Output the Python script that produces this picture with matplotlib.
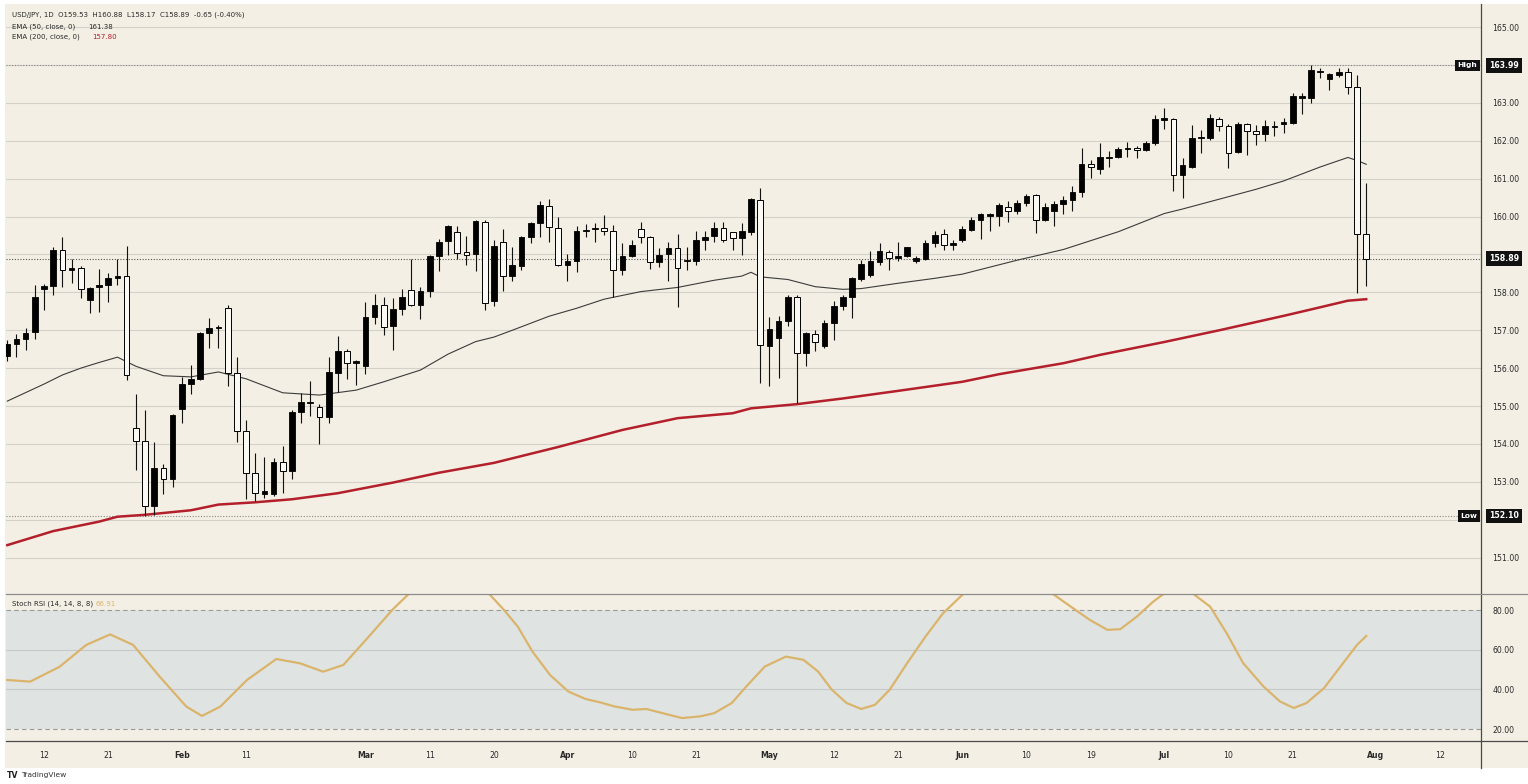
import numpy as np
import pandas as pd
import matplotlib
matplotlib.use("Agg")
import matplotlib.pyplot as plt
import matplotlib.transforms as mtransforms
from matplotlib.lines import Line2D
from matplotlib.patches import Rectangle

# ---- data ----
start_date = "2026-01-06"

opens = [156.32, 156.63, 156.77, 156.96, 158.08, 158.17, 159.12, 158.59, 158.63, 157.80,
         158.13, 158.19, 158.37, 158.43, 154.43, 154.07, 152.35, 153.37, 153.08, 154.92,
         155.58, 155.71, 156.93, 157.05, 157.60, 155.88, 154.33, 153.22, 152.69, 152.68,
         153.52, 153.28, 154.83, 155.08, 154.97, 154.71, 155.87, 156.46, 156.13, 156.07,
         157.34, 157.67, 157.10, 157.56, 158.06, 157.66, 158.04, 158.96, 159.36, 159.58,
         159.07, 159.01, 159.87, 157.76, 159.32, 158.44, 158.70, 159.47, 159.82, 160.28,
         159.69, 158.73, 158.84, 159.61, 159.67, 159.69, 159.62, 158.58, 158.95, 159.68,
         159.46, 158.79, 159.02, 159.18, 158.82, 158.83, 159.37, 159.49, 159.69, 159.59,
         159.43, 159.59, 160.44, 156.58, 156.80, 157.24, 157.88, 156.40, 156.91, 156.58,
         157.18, 157.63, 157.88, 158.36, 158.46, 158.80, 159.06, 158.90, 158.95, 158.82,
         158.89, 159.30, 159.54, 159.25, 159.39, 159.65, 159.90, 160.02, 160.02, 160.25,
         160.14, 160.37, 160.56, 159.90, 160.16, 160.34, 160.44, 160.66, 161.38, 161.26,
         161.55, 161.56, 161.78, 161.81, 161.75, 161.94, 162.56, 162.58, 161.09, 161.31,
         162.07, 162.08, 162.57, 162.38, 161.70, 162.45, 162.26, 162.17, 162.37, 162.45,
         162.47, 163.14, 163.14, 163.82, 163.62, 163.73, 163.82, 163.41, 159.53]
highs = [156.75, 156.89, 157.05, 158.19, 158.22, 159.21, 159.47, 158.87, 158.70, 158.14,
         158.61, 158.52, 158.87, 159.22, 155.33, 154.89, 154.05, 153.48, 154.78, 155.77,
         156.08, 156.95, 157.33, 157.15, 157.67, 156.30, 154.62, 153.76, 153.66, 153.63,
         153.94, 154.89, 155.34, 155.65, 155.06, 156.29, 156.85, 156.50, 156.22, 157.75,
         157.97, 157.87, 157.86, 158.08, 158.89, 158.13, 158.98, 159.42, 159.77, 159.75,
         159.48, 159.90, 159.90, 159.39, 159.67, 159.21, 159.50, 159.87, 160.42, 160.46,
         159.98, 159.02, 159.74, 159.81, 159.84, 160.04, 159.78, 159.30, 159.37, 159.87,
         159.48, 159.17, 159.32, 159.54, 159.21, 159.63, 159.63, 159.85, 159.85, 159.60,
         159.82, 160.48, 160.75, 157.35, 157.37, 157.94, 157.94, 156.95, 157.02, 157.28,
         157.76, 157.94, 158.40, 158.86, 159.10, 159.30, 159.12, 159.34, 159.21, 158.96,
         159.37, 159.61, 159.67, 159.39, 159.76, 160.00, 160.09, 160.09, 160.36, 160.40,
         160.44, 160.59, 160.59, 160.36, 160.40, 160.55, 160.80, 161.81, 161.48, 161.93,
         161.74, 161.84, 161.96, 161.85, 161.99, 162.69, 162.87, 162.60, 161.55, 162.41,
         162.28, 162.72, 162.63, 162.44, 162.50, 162.47, 162.41, 162.54, 162.52, 162.60,
         163.25, 163.25, 163.99, 163.91, 163.78, 163.91, 163.91, 163.73, 160.88]
lows = [156.20, 156.30, 156.48, 156.78, 157.53, 157.93, 158.13, 158.24, 157.84, 157.45,
        157.49, 157.75, 158.19, 155.68, 153.30, 152.10, 152.12, 152.69, 152.86, 154.56,
        155.31, 155.68, 156.52, 156.52, 155.52, 154.05, 152.56, 152.50, 152.58, 152.62,
        152.71, 153.08, 154.55, 154.73, 154.01, 154.54, 155.36, 155.71, 155.56, 155.85,
        157.17, 156.88, 156.48, 157.40, 157.64, 157.29, 157.87, 158.57, 158.98, 158.87,
        158.72, 158.57, 157.54, 157.63, 158.03, 158.29, 158.58, 159.30, 159.47, 159.34,
        158.70, 158.29, 158.55, 159.46, 159.34, 159.52, 157.89, 158.46, 158.93, 159.30,
        158.61, 158.67, 158.29, 157.61, 158.58, 158.73, 159.12, 159.32, 159.32, 159.12,
        158.99, 159.52, 155.60, 155.53, 155.75, 157.11, 155.07, 156.05, 156.45, 156.54,
        156.75, 157.54, 157.32, 158.29, 158.40, 158.73, 158.60, 158.82, 158.94, 158.77,
        158.86, 159.21, 159.12, 159.12, 159.34, 159.61, 159.41, 159.63, 159.74, 159.87,
        160.07, 160.27, 159.56, 159.88, 159.76, 160.07, 160.14, 160.52, 161.02, 161.13,
        161.31, 161.54, 161.57, 161.55, 161.74, 161.90, 162.31, 160.67, 160.49, 161.29,
        161.68, 162.03, 162.26, 161.29, 161.68, 161.62, 161.88, 162.00, 162.12, 162.21,
        162.45, 162.72, 163.01, 163.67, 163.33, 163.69, 163.23, 157.98, 158.17]
closes = [156.65, 156.78, 156.94, 157.89, 158.17, 159.12, 158.59, 158.64, 158.08, 158.11,
          158.19, 158.39, 158.43, 155.81, 154.07, 152.35, 153.37, 153.08, 154.76, 155.58,
          155.71, 156.93, 157.05, 157.09, 155.88, 154.33, 153.22, 152.71, 152.75, 153.52,
          153.28, 154.83, 155.10, 155.10, 154.71, 155.89, 156.44, 156.13, 156.18, 157.36,
          157.67, 157.08, 157.56, 157.89, 157.66, 158.04, 158.96, 159.33, 159.75, 159.04,
          158.98, 159.88, 157.72, 159.23, 158.44, 158.73, 159.47, 159.82, 160.31, 159.72,
          158.73, 158.82, 159.62, 159.65, 159.69, 159.62, 158.58, 158.95, 159.25, 159.46,
          158.80, 158.99, 159.16, 158.64, 158.84, 159.39, 159.47, 159.71, 159.37, 159.43,
          159.62, 160.46, 156.62, 157.04, 157.24, 157.89, 156.40, 156.93, 156.68, 157.19,
          157.63, 157.88, 158.38, 158.75, 158.83, 159.08, 158.92, 158.96, 159.19, 158.90,
          159.30, 159.52, 159.25, 159.29, 159.67, 159.90, 160.07, 160.06, 160.30, 160.16,
          160.36, 160.55, 159.92, 160.24, 160.33, 160.43, 160.66, 161.38, 161.31, 161.56,
          161.57, 161.79, 161.81, 161.75, 161.94, 162.58, 162.58, 161.11, 161.37, 162.08,
          162.10, 162.59, 162.38, 161.68, 162.45, 162.25, 162.19, 162.38, 162.38, 162.50,
          163.18, 163.16, 163.86, 163.85, 163.75, 163.82, 163.41, 159.53, 158.89]

ema50_idx = [0, 4, 6, 8, 10, 12, 14, 17, 20, 23, 26, 30, 34, 38, 41, 45, 48, 51, 53, 55,
             59, 62, 65, 69, 73, 77, 80, 81, 82, 85, 88, 91, 93, 97, 101, 104, 110, 115,
             121, 126, 128, 132, 136, 139, 143, 146, 147, 148]
ema50_val = [155.13, 155.58, 155.82, 156.00, 156.15, 156.29, 156.05, 155.80, 155.77, 155.90,
             155.72, 155.35, 155.29, 155.42, 155.64, 155.95, 156.37, 156.70, 156.82, 157.00,
             157.37, 157.58, 157.82, 158.02, 158.13, 158.32, 158.43, 158.53, 158.41, 158.34,
             158.15, 158.08, 158.10, 158.24, 158.37, 158.48, 158.85, 159.13, 159.60, 160.08,
             160.20, 160.46, 160.72, 160.94, 161.31, 161.56, 161.48, 161.38]

ema200_idx = [0, 5, 10, 12, 15, 20, 23, 27, 31, 36, 42, 47, 53, 60, 67, 73, 79, 81, 86,
              91, 97, 104, 108, 115, 119, 126, 132, 139, 142, 146, 148]
ema200_val = [151.33, 151.70, 151.95, 152.08, 152.13, 152.25, 152.40, 152.46, 152.54, 152.70,
              152.98, 153.24, 153.50, 153.92, 154.37, 154.68, 154.81, 154.94, 155.05, 155.20,
              155.40, 155.64, 155.84, 156.13, 156.35, 156.69, 157.00, 157.38, 157.55, 157.78,
              157.82]

stoch_idx = [0, 2.5, 5.7, 8.6, 11.2, 13.7, 16.6, 19.5, 21.2, 23.2, 26.1, 29.3, 31.9, 34.4,
             36.6, 39.2, 42.0, 43.7, 46, 48.5, 51, 52.5, 54.1, 55.6, 57.2, 59.1, 61.1, 63,
             64.6, 66.1, 68.1, 69.6, 71.6, 73.5, 75.5, 77, 78.9, 80.5, 82.5, 84.8, 86.7,
             88.3, 89.8, 91.4, 93, 94.5, 96.1, 98, 100, 101.9, 103.8, 104.1, 106, 109, 112,
             113.9, 116.1, 117.9, 119.8, 121.2, 123, 124.8, 125.9, 127.5, 129.2, 131, 132.8,
             134.6, 136.8, 138.6, 140.1, 141.5, 143.4, 145.2, 147, 148]
stoch_val = [44.7, 43.9, 51.4, 62.4, 67.7, 62.4, 46.4, 31.3, 26.6, 31.3, 44.7, 55.3, 53.1, 48.9,
             52.3, 65.7, 80.4, 88.0, 97.0, 100.0, 96.0, 88.0, 80.0, 71.6, 59.0, 47.3, 38.9, 35.1,
             33.4, 31.4, 29.7, 30.1, 27.7, 25.5, 26.4, 28.0, 33.1, 41.5, 51.5, 56.5, 54.9,
             49.0, 39.8, 33.1, 30.1, 32.2, 39.8, 53.2, 66.6, 78.3, 86.7, 88.0, 97.0, 100.0, 97.0,
             88.0, 80.8, 75.0, 70.0, 70.3, 76.6, 84.2, 88.0, 93.0, 88.0, 81.7, 68.3,
             53.2, 41.5, 33.9, 30.6, 33.1, 40.6, 51.5, 62.4, 66.91]

tick_dates = ["2026-01-12", "2026-01-21", "2026-02-02", "2026-02-11", "2026-03-02",
              "2026-03-11", "2026-03-20", "2026-04-01", "2026-04-10", "2026-04-21",
              "2026-05-01", "2026-05-12", "2026-05-21", "2026-06-01", "2026-06-10",
              "2026-06-19", "2026-07-01", "2026-07-10", "2026-07-21", "2026-08-03",
              "2026-08-12"]
tick_labels = ["12", "21", "Feb", "11", "Mar", "11", "20", "Apr", "10", "21", "May",
               "12", "21", "Jun", "10", "19", "Jul", "10", "21", "Aug", "12"]

price_ticks = [151, 153, 154, 155, 156, 157, 158, 160, 161, 162, 163, 165]
grid_levels = list(range(151, 166))
stoch_ticks = [20, 40, 60, 80]

high_mark = 163.99
low_mark = 152.10
last_price = 158.89

# ---- style ----
BG = "#f4efe4"
BAND = "#dfe4e3"
GRID = "#d3d1ca"
TXT = "#2a2a2a"
AX_LINE = "#4a4a4a"
RED = "#b3202c"
GOLD = "#dbb46c"

W, H = 1528, 784
fig = plt.figure(figsize=(W / 100, H / 100), dpi=100, facecolor="white")

def fx(px):
    return px / W

def fy(py):
    return 1 - py / H

bg_rect = Rectangle((fx(5), fy(768)), 1 - fx(5), fy(4) - fy(768),
                    transform=fig.transFigure, facecolor=BG, edgecolor="none", zorder=-5)
fig.patches.append(bg_rect)

left, right = 6, 1481
ax1 = fig.add_axes([fx(left), fy(594), fx(right - left), fy(4) - fy(594)], facecolor=BG)
ax2 = fig.add_axes([fx(left), fy(741), fx(right - left), fy(594) - fy(741)], facecolor=BG, sharex=ax1)

x = np.arange(len(opens))
o = np.array(opens)
c = np.array(closes)
up = c >= o
body_bot = np.minimum(o, c)
body_h = np.maximum(np.abs(c - o), 0.03)

for lvl in grid_levels:
    ax1.axhline(lvl, color=GRID, lw=0.8, zorder=1)

ax1.axhline(high_mark, color="#8a8a8a", lw=0.8, ls=(0, (1, 1.5)), zorder=2)
ax1.axhline(low_mark, color="#8a8a8a", lw=0.8, ls=(0, (1, 1.5)), zorder=2)
ax1.axhline(last_price, color="#555555", lw=0.8, ls=(0, (1, 1.5)), zorder=2)

ax1.plot(ema50_idx, ema50_val, color="#3c3c3c", lw=0.8, zorder=2.5)
ax1.plot(ema200_idx, ema200_val, color=RED, lw=1.8, zorder=2.5)

ax1.vlines(x, lows, highs, color="#111111", lw=0.8, zorder=3)
ax1.bar(x[up], body_h[up], bottom=body_bot[up], width=0.62, color="#000000",
        edgecolor="#000000", lw=0.6, zorder=4)
ax1.bar(x[~up], body_h[~up], bottom=body_bot[~up], width=0.62, color="#fbf9f3",
        edgecolor="#000000", lw=0.7, zorder=4)

ax1.set_xlim(-0.14, 160.5)
ax1.set_ylim(150.04, 165.61)

ax1.yaxis.tick_right()
ax1.set_yticks(price_ticks)
ax1.set_yticklabels([f"{t:.2f}" for t in price_ticks])
ax1.tick_params(axis="y", length=0, pad=8, labelsize=5.6, labelcolor=TXT)
ax1.tick_params(axis="x", length=0, labelbottom=False)
for s in ["top", "left"]:
    ax1.spines[s].set_visible(False)
ax1.spines["right"].set_color(AX_LINE)
ax1.spines["right"].set_linewidth(0.9)
ax1.spines["bottom"].set_visible(False)

# value boxes on the price axis
trans1 = mtransforms.blended_transform_factory(ax1.transAxes, ax1.transData)
box = dict(boxstyle="square,pad=0.35", fc="#111111", ec="none")
for val, tag in [(high_mark, "High"), (low_mark, "Low"), (last_price, None)]:
    ax1.text(1.0055, val, f"{val:.2f}", transform=trans1, ha="left", va="center",
             fontsize=5.6, color="white", fontweight="bold", bbox=box, clip_on=False, zorder=10)
    if tag:
        ax1.text(0.9975, val, tag, transform=trans1, ha="right", va="center",
                 fontsize=5.4, color="white", fontweight="bold", bbox=box, clip_on=False, zorder=10)

# ---- stoch RSI pane ----
ax2.axhspan(20, 80, color=BAND, zorder=0.5, lw=0)
for lvl in [40, 60]:
    ax2.axhline(lvl, color="#c5c9c9", lw=0.8, zorder=1)
for lvl in [20, 80]:
    ax2.axhline(lvl, color="#9a9a9a", lw=0.8, ls=(0, (4, 3)), zorder=1)
ax2.plot(stoch_idx, stoch_val, color=GOLD, lw=1.6, zorder=3)
ax2.set_ylim(13.95, 88.07)

ax2.yaxis.tick_right()
ax2.set_yticks(stoch_ticks)
ax2.set_yticklabels([f"{t:.2f}" for t in stoch_ticks])
ax2.tick_params(axis="y", length=0, pad=8, labelsize=5.6, labelcolor=TXT)

dates = pd.bdate_range(start_date, periods=len(opens) + 20)
tick_pos = dates.get_indexer(pd.to_datetime(tick_dates))
ax2.set_xticks(tick_pos)
ax2.set_xticklabels(tick_labels)
ax2.tick_params(axis="x", length=0, pad=7, labelsize=5.6, labelcolor=TXT)
for lab in ax2.get_xticklabels():
    if not lab.get_text().isdigit():
        lab.set_fontweight("bold")
for s in ["top", "left"]:
    ax2.spines[s].set_visible(False)
ax2.spines["right"].set_color(AX_LINE)
ax2.spines["right"].set_linewidth(0.9)
ax2.spines["bottom"].set_color(AX_LINE)
ax2.spines["bottom"].set_linewidth(0.9)

# pane separator, axis lines into the margins
fig.add_artist(Line2D([fx(left), 1], [fy(594), fy(594)], color="#8c8c8c", lw=0.9))
fig.add_artist(Line2D([fx(right), 1], [fy(741), fy(741)], color=AX_LINE, lw=0.9))
fig.add_artist(Line2D([fx(right), fx(right)], [fy(741), fy(768)], color=AX_LINE, lw=0.9))

# ---- header texts ----
fs = 5.0
fig.text(fx(12), fy(15), "USD/JPY, 1D  O159.53  H160.88  L158.17  C158.89  -0.65 (-0.40%)",
         fontsize=fs, color=TXT, va="center")
fig.text(fx(12), fy(27), "EMA (50, close, 0)", fontsize=fs, color=TXT, va="center")
fig.text(fx(88), fy(27), "161.38", fontsize=fs, color=TXT, va="center")
fig.text(fx(12), fy(37), "EMA (200, close, 0)", fontsize=fs, color=TXT, va="center")
fig.text(fx(92), fy(37), "157.80", fontsize=fs, color=RED, va="center")
fig.text(fx(12), fy(604), "Stoch RSI (14, 14, 8, 8)", fontsize=fs, color=TXT, va="center")
fig.text(fx(95), fy(604), "66.91", fontsize=fs, color=GOLD, va="center")

fig.text(fx(7), fy(775), "TV", fontsize=5.6, color="#222222", fontweight="heavy", va="center")
fig.text(fx(21), fy(775), "TradingView", fontsize=5.4, color="#333333", va="center")

fig.savefig("out.png", dpi=100, facecolor="white")
